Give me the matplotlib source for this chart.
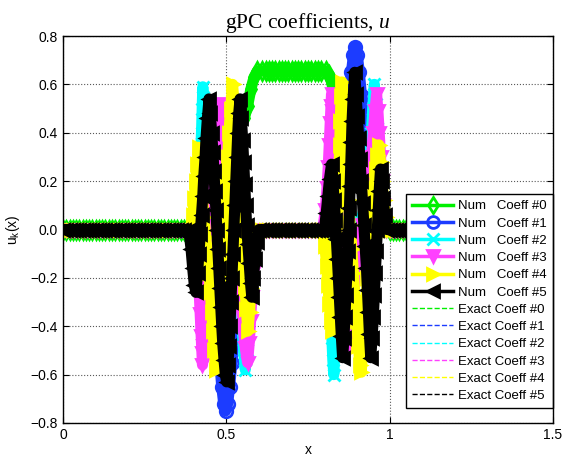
import numpy as np
import matplotlib
matplotlib.use('Agg')
import matplotlib.pyplot as plt
from matplotlib.lines import Line2D

plt.rcParams['font.family'] = ['Liberation Sans', 'DejaVu Sans']
plt.rcParams['mathtext.fontset'] = 'custom'
plt.rcParams['mathtext.rm'] = 'Liberation Sans'
plt.rcParams['mathtext.it'] = 'Liberation Serif:italic'

# mesh points where the higher coefficients sit at zero
x_flat_left = np.round(np.arange(0.0, 0.375, 0.01), 3)
x_flat_mid = np.round(np.arange(0.61, 0.795, 0.01), 3)
x_flat_right = np.round(np.arange(1.0, 1.5001, 0.01), 3)

# coefficient #0 (mean)
green_a = [(0.38, 0), (0.39, 0), (0.42, 0.03), (0.44, 0.09), (0.46, 0.19), (0.48, 0.29), (0.50, 0.36),
           (0.52, 0.40), (0.54, 0.43), (0.555, 0.46), (0.565, 0.51), (0.575, 0.58),
           (0.585, 0.63), (0.595, 0.655)]
green_plateau = 0.655
green_b = [(0.805, 0.655), (0.815, 0.64), (0.822, 0.61), (0.83, 0.56), (0.838, 0.5),
           (0.85, 0.46), (0.87, 0.42), (0.89, 0.38), (0.91, 0.33), (0.93, 0.25),
           (0.95, 0.15), (0.97, 0.06), (0.99, 0.01)]

# coefficient #1
blue_a = [(0.40, 0), (0.42, -0.05), (0.44, -0.14), (0.455, -0.25), (0.465, -0.35), (0.473, -0.45),
          (0.48, -0.55), (0.486, -0.65), (0.492, -0.72), (0.498, -0.75), (0.504, -0.72),
          (0.51, -0.65), (0.517, -0.55), (0.527, -0.4), (0.54, -0.25), (0.556, -0.12), (0.575, 0)]
blue_b = [(0.80, 0), (0.82, 0.05), (0.838, 0.14), (0.852, 0.25), (0.862, 0.35), (0.87, 0.45),
          (0.877, 0.55), (0.883, 0.65), (0.889, 0.72), (0.895, 0.755), (0.901, 0.72),
          (0.907, 0.65), (0.914, 0.55), (0.922, 0.42), (0.935, 0.27), (0.952, 0.12), (0.975, 0)]

# coefficient #2
cyan_a = [(0.405, 0), (0.412, 0.1), (0.417, 0.2), (0.421, 0.3), (0.424, 0.4), (0.426, 0.5),
          (0.428, 0.59), (0.431, 0.5), (0.434, 0.4), (0.438, 0.3), (0.443, 0.2), (0.452, 0.1),
          (0.47, 0.03), (0.49, 0), (0.51, -0.03), (0.528, -0.1), (0.537, -0.2), (0.543, -0.3),
          (0.548, -0.4), (0.553, -0.5), (0.558, -0.58), (0.562, -0.5), (0.566, -0.4),
          (0.57, -0.3), (0.575, -0.2), (0.581, -0.11), (0.588, -0.04), (0.597, 0)]
cyan_b = [(0.795, 0), (0.803, -0.06), (0.81, -0.15), (0.816, -0.25), (0.82, -0.35), (0.823, -0.45),
          (0.826, -0.54), (0.829, -0.6), (0.832, -0.5), (0.836, -0.4), (0.84, -0.3), (0.845, -0.2),
          (0.852, -0.1), (0.87, -0.03), (0.89, 0), (0.91, 0.03), (0.925, 0.1), (0.933, 0.2),
          (0.939, 0.3), (0.944, 0.4), (0.948, 0.5), (0.953, 0.6), (0.957, 0.52), (0.961, 0.42),
          (0.965, 0.32), (0.97, 0.22), (0.976, 0.12), (0.983, 0.05), (0.99, 0)]

# coefficient #3
magenta_a = [(0.40, 0), (0.408, -0.08), (0.413, -0.17), (0.417, -0.26), (0.42, -0.35), (0.423, -0.44),
             (0.425, -0.51), (0.427, -0.56), (0.43, -0.48), (0.433, -0.39), (0.436, -0.3),
             (0.44, -0.2), (0.445, -0.1), (0.45, 0), (0.455, 0.1), (0.459, 0.2), (0.463, 0.3),
             (0.467, 0.4), (0.472, 0.48), (0.477, 0.52), (0.481, 0.45), (0.485, 0.35),
             (0.489, 0.25), (0.494, 0.15), (0.50, 0.05), (0.51, -0.03), (0.525, -0.1),
             (0.536, -0.2), (0.544, -0.3), (0.551, -0.4), (0.558, -0.49), (0.565, -0.55),
             (0.57, -0.47), (0.574, -0.38), (0.578, -0.28), (0.582, -0.18), (0.587, -0.09),
             (0.594, -0.03), (0.6, 0)]
magenta_b = [(0.795, 0), (0.803, 0.08), (0.808, 0.17), (0.812, 0.26), (0.815, 0.35), (0.818, 0.44),
             (0.82, 0.51), (0.822, 0.56), (0.825, 0.49), (0.828, 0.4), (0.831, 0.3), (0.835, 0.2),
             (0.84, 0.1), (0.846, 0), (0.852, -0.1), (0.858, -0.2), (0.864, -0.3), (0.87, -0.4),
             (0.877, -0.49), (0.883, -0.42), (0.888, -0.32), (0.893, -0.22), (0.899, -0.12),
             (0.906, -0.04), (0.915, 0.02), (0.928, 0.1), (0.937, 0.2), (0.944, 0.3), (0.95, 0.4),
             (0.955, 0.49), (0.96, 0.56), (0.964, 0.49), (0.968, 0.4), (0.972, 0.3), (0.976, 0.2),
             (0.981, 0.1), (0.99, 0)]

# coefficient #4
yellow_a = [(0.39, 0), (0.397, 0.06), (0.402, 0.13), (0.406, 0.2), (0.41, 0.27), (0.415, 0.34),
            (0.419, 0.27), (0.423, 0.2), (0.427, 0.13), (0.432, 0.05), (0.437, -0.03), (0.442, -0.1),
            (0.447, -0.18), (0.451, -0.26), (0.455, -0.34), (0.459, -0.42), (0.463, -0.5),
            (0.467, -0.58), (0.472, -0.5), (0.476, -0.4), (0.48, -0.3), (0.484, -0.2), (0.488, -0.1),
            (0.492, 0), (0.496, 0.1), (0.5, 0.2), (0.504, 0.3), (0.508, 0.4), (0.513, 0.5),
            (0.519, 0.6), (0.524, 0.52), (0.529, 0.42), (0.533, 0.32), (0.537, 0.22), (0.541, 0.12),
            (0.545, 0.03), (0.549, -0.06), (0.553, -0.15), (0.557, -0.24), (0.561, -0.33),
            (0.566, -0.42), (0.571, -0.34), (0.576, -0.24), (0.582, -0.14), (0.588, -0.06), (0.596, 0)]
yellow_b = [(0.795, 0), (0.802, -0.07), (0.807, -0.15), (0.811, -0.23), (0.815, -0.31), (0.819, -0.38),
            (0.823, -0.42), (0.827, -0.34), (0.831, -0.25), (0.835, -0.15), (0.838, -0.05),
            (0.841, 0.05), (0.843, 0.15), (0.845, 0.25), (0.847, 0.35), (0.849, 0.45), (0.851, 0.55),
            (0.854, 0.61), (0.858, 0.52), (0.862, 0.42), (0.866, 0.32), (0.87, 0.22), (0.874, 0.12),
            (0.879, 0.02), (0.884, -0.08), (0.889, -0.18), (0.894, -0.28), (0.899, -0.38),
            (0.904, -0.48), (0.909, -0.56), (0.913, -0.59), (0.917, -0.5), (0.922, -0.4),
            (0.927, -0.3), (0.932, -0.2), (0.937, -0.1), (0.942, 0), (0.948, 0.09), (0.953, 0.17),
            (0.957, 0.25), (0.962, 0.31), (0.967, 0.35), (0.972, 0.28), (0.977, 0.2), (0.982, 0.12),
            (0.988, 0.05), (0.995, 0)]

# coefficient #5
black_a = [(0.385, 0), (0.392, -0.08), (0.397, -0.16), (0.402, -0.23), (0.407, -0.26), (0.412, -0.18),
           (0.416, -0.1), (0.42, -0.02), (0.424, 0.06), (0.428, 0.14), (0.431, 0.22), (0.435, 0.3),
           (0.438, 0.38), (0.442, 0.46), (0.447, 0.54), (0.451, 0.48), (0.455, 0.4), (0.459, 0.32),
           (0.462, 0.24), (0.465, 0.16), (0.468, 0.08), (0.471, 0), (0.474, -0.08), (0.477, -0.16),
           (0.48, -0.24), (0.483, -0.32), (0.486, -0.4), (0.489, -0.47), (0.493, -0.54),
           (0.497, -0.6), (0.501, -0.63), (0.505, -0.56), (0.508, -0.48), (0.511, -0.4),
           (0.514, -0.3), (0.517, -0.2), (0.52, -0.1), (0.523, 0), (0.526, 0.1), (0.529, 0.2),
           (0.532, 0.3), (0.535, 0.4), (0.538, 0.48), (0.542, 0.54), (0.546, 0.46), (0.55, 0.37),
           (0.553, 0.28), (0.556, 0.19), (0.559, 0.1), (0.562, 0.02), (0.566, -0.06), (0.57, -0.14),
           (0.574, -0.22), (0.578, -0.28), (0.583, -0.2), (0.588, -0.12), (0.594, -0.05), (0.6, 0)]
black_b = [(0.80, 0), (0.806, 0.07), (0.811, 0.14), (0.816, 0.21), (0.822, 0.27), (0.826, 0.2),
           (0.83, 0.12), (0.834, 0.04), (0.837, -0.04), (0.84, -0.12), (0.843, -0.2), (0.846, -0.28),
           (0.849, -0.36), (0.852, -0.44), (0.856, -0.53), (0.86, -0.45), (0.863, -0.36),
           (0.866, -0.27), (0.869, -0.18), (0.872, -0.09), (0.875, 0), (0.877, 0.09), (0.879, 0.18),
           (0.881, 0.27), (0.883, 0.36), (0.885, 0.45), (0.888, 0.54), (0.893, 0.65), (0.897, 0.56),
           (0.901, 0.47), (0.905, 0.38), (0.909, 0.29), (0.913, 0.2), (0.917, 0.11), (0.921, 0.02),
           (0.925, -0.07), (0.929, -0.16), (0.932, -0.25), (0.935, -0.34), (0.938, -0.43),
           (0.942, -0.53), (0.946, -0.45), (0.95, -0.36), (0.953, -0.27), (0.956, -0.18),
           (0.959, -0.09), (0.962, 0), (0.965, 0.08), (0.968, 0.16), (0.972, 0.25), (0.976, 0.2),
           (0.98, 0.13), (0.985, 0.06), (0.992, 0)]

colors = ['#00f000', '#1c3cff', '#00ffff', '#ff40ff', '#ffff00', '#000000']
markers = ['d', 'o', 'x', 'v', '>', '<']
filled = [False, False, False, True, True, True]
regions = [(green_a, green_b), (blue_a, blue_b), (cyan_a, cyan_b),
           (magenta_a, magenta_b), (yellow_a, yellow_b), (black_a, black_b)]
mid_levels = [green_plateau, 0, 0, 0, 0, 0]


def assemble(reg_a, reg_b, mid_level):
    xa, ya = zip(*reg_a)
    xb, yb = zip(*reg_b)
    x = list(x_flat_left) + list(xa) + list(x_flat_mid) + list(xb) + list(x_flat_right)
    y = ([0.0] * len(x_flat_left) + list(ya) + [mid_level] * len(x_flat_mid)
         + list(yb) + [0.0] * len(x_flat_right))
    return np.array(x), np.array(y)


fig = plt.figure(figsize=(5.63, 4.59), dpi=100)
ax = fig.add_axes([63 / 563, 36 / 459, 490 / 563, 387 / 459])

num_handles = []
exact_handles = []
for k in range(6):
    x, y = assemble(regions[k][0], regions[k][1], mid_levels[k])
    ax.plot(x, y, '--', color=colors[k], lw=1.0, zorder=1)
    exact_handles.append(Line2D([], [], ls='--', color=colors[k], lw=1.0,
                                label='Exact Coeff #%d' % k))
for k in range(6):
    x, y = assemble(regions[k][0], regions[k][1], mid_levels[k])
    mfc = colors[k] if filled[k] else 'none'
    ax.plot(x, y, '-', color=colors[k], lw=8, solid_joinstyle='round', solid_capstyle='round',
            marker=markers[k], markersize=9, markeredgewidth=2.0, markerfacecolor=mfc,
            zorder=2 + k)
    num_handles.append(Line2D([], [], color=colors[k], lw=2.5, marker=markers[k],
                              markersize=8.5, markeredgewidth=2.0, markerfacecolor=mfc,
                              label='Num   Coeff #%d' % k))

ax.set_xlim(0, 1.5)
ax.set_ylim(-0.8, 0.8)
ax.set_xticks([0, 0.5, 1, 1.5])
ax.set_xticklabels(['0', '0.5', '1', '1.5'])
ax.set_yticks(np.round(np.arange(-0.8, 0.81, 0.2), 1))
ax.grid(True, linestyle=':', color='0.35', linewidth=0.8)
ax.tick_params(direction='in', top=True, right=True, length=4, labelsize=10)
for s in ax.spines.values():
    s.set_linewidth(1.0)
    s.set_zorder(30)

ax.set_title(r'gPC coefficients, $u$', fontfamily='Liberation Serif', fontsize=15.5, pad=6)
ax.set_xlabel('x', fontsize=10, labelpad=1)
ax.set_ylabel(r'u$_\mathrm{k}$(x)', fontsize=10, labelpad=6)

leg = ax.legend(handles=num_handles + exact_handles, loc='lower right',
                bbox_to_anchor=(1.0, 15 / 387), borderaxespad=0, fontsize=9.5,
                handlelength=3.1, handletextpad=0.4, labelspacing=0.38,
                borderpad=0.45, fancybox=False, framealpha=1, edgecolor='black')
leg.get_frame().set_linewidth(1.0)
leg.set_zorder(20)

fig.savefig('out.png', dpi=100)
